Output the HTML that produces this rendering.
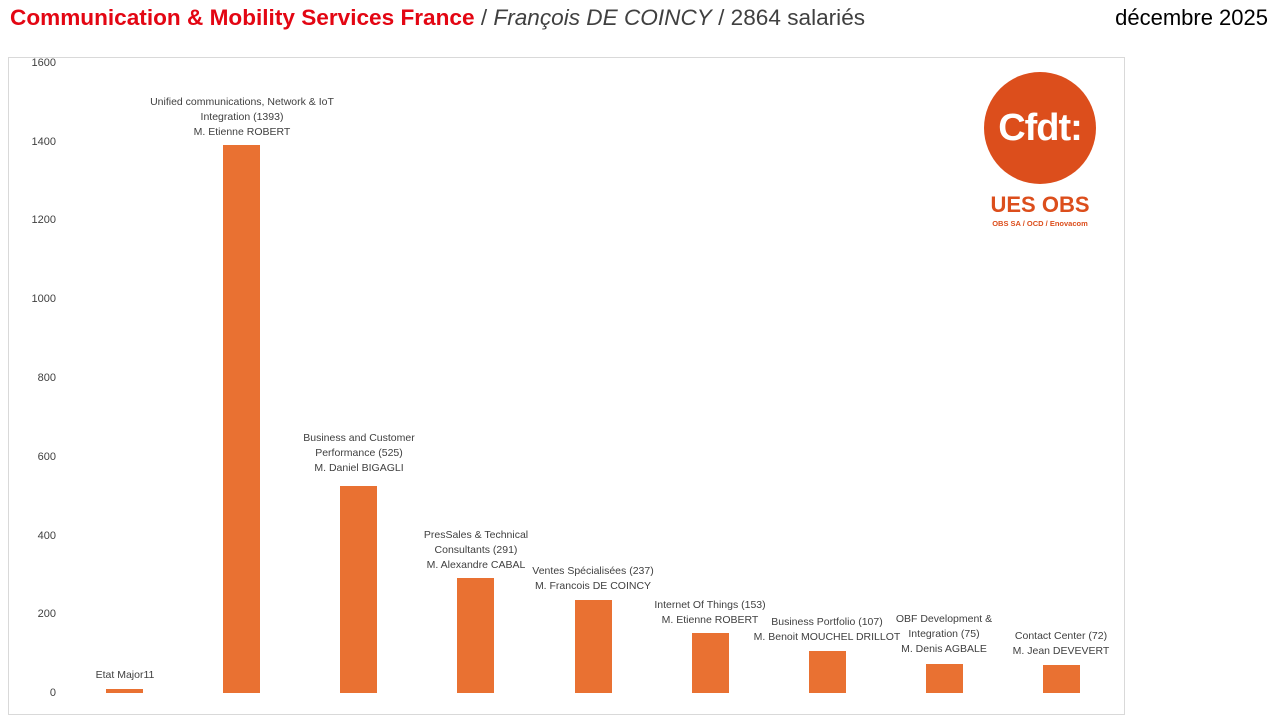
<!DOCTYPE html>
<html><head><meta charset="utf-8"><style>
body{margin:0;width:1280px;height:720px;background:#fff;position:relative;overflow:hidden;font-family:"Liberation Sans",sans-serif}
.t{position:absolute;top:5px;left:10px;font-size:22.6px;color:#404040;white-space:nowrap}
.t b{color:#e30613}
.d{position:absolute;top:5px;right:12px;font-size:22px;color:#000}
.frame{position:absolute;left:8px;top:57px;width:1117px;height:658px;border:1px solid #d9d9d9;box-sizing:border-box}
.yl{position:absolute;width:40px;left:16px;text-align:right;font-size:11px;color:#404040;line-height:12px}
.bar{position:absolute;width:37px;background:#E97132}
.lb{position:absolute;width:200px;text-align:center;font-size:10.5px;color:#404040;line-height:15px}
</style></head><body>
<div class="t"><b>Communication &amp; Mobility Services France</b> / <i>François DE COINCY</i> / 2864 salariés</div>
<div class="d">décembre 2025</div>
<div class="frame"></div>
<div class="yl" style="top:57px">1600</div>
<div class="yl" style="top:136px">1400</div>
<div class="yl" style="top:214px">1200</div>
<div class="yl" style="top:293px">1000</div>
<div class="yl" style="top:372px">800</div>
<div class="yl" style="top:451px">600</div>
<div class="yl" style="top:530px">400</div>
<div class="yl" style="top:608px">200</div>
<div class="yl" style="top:687px">0</div>

<div class="bar" style="left:106px;top:689px;height:4px"></div>
<div class="bar" style="left:223px;top:145px;height:548px"></div>
<div class="bar" style="left:340px;top:486px;height:207px"></div>
<div class="bar" style="left:457px;top:578px;height:115px"></div>
<div class="bar" style="left:575px;top:600px;height:93px"></div>
<div class="bar" style="left:692px;top:633px;height:60px"></div>
<div class="bar" style="left:809px;top:651px;height:42px"></div>
<div class="bar" style="left:926px;top:664px;height:29px"></div>
<div class="bar" style="left:1043px;top:665px;height:28px"></div>

<div class="lb" style="left:25px;top:668px">Etat Major11</div>
<div class="lb" style="left:142px;top:95px">Unified communications, Network &amp; IoT<br>Integration (1393)<br>M. Etienne ROBERT</div>
<div class="lb" style="left:259px;top:431px">Business and Customer<br>Performance (525)<br>M. Daniel BIGAGLI</div>
<div class="lb" style="left:376px;top:528px">PresSales &amp; Technical<br>Consultants (291)<br>M. Alexandre CABAL</div>
<div class="lb" style="left:493px;top:564px">Ventes Spécialisées (237)<br>M. Francois DE COINCY</div>
<div class="lb" style="left:610px;top:598px">Internet Of Things (153)<br>M. Etienne ROBERT</div>
<div class="lb" style="left:727px;top:615px">Business Portfolio (107)<br>M. Benoit MOUCHEL DRILLOT</div>
<div class="lb" style="left:844px;top:612px">OBF Development &amp;<br>Integration (75)<br>M. Denis AGBALE</div>
<div class="lb" style="left:961px;top:629px">Contact Center (72)<br>M. Jean DEVEVERT</div>

<div style="position:absolute;left:984px;top:72px;width:112px;height:112px;border-radius:50%;background:#dc4e1c"></div>
<div style="position:absolute;left:984px;top:106px;width:112px;text-align:center;color:#fff;font-weight:bold;font-size:38px;line-height:44px;letter-spacing:-1px">Cfdt:</div>
<div style="position:absolute;left:970px;top:192px;width:140px;text-align:center;color:#dc4e1c;font-weight:bold;font-size:22px;line-height:26px">UES OBS</div>
<div style="position:absolute;left:970px;top:219px;width:140px;text-align:center;color:#dc4e1c;font-weight:bold;font-size:7.5px">OBS SA / OCD / Enovacom</div>
</body></html>
